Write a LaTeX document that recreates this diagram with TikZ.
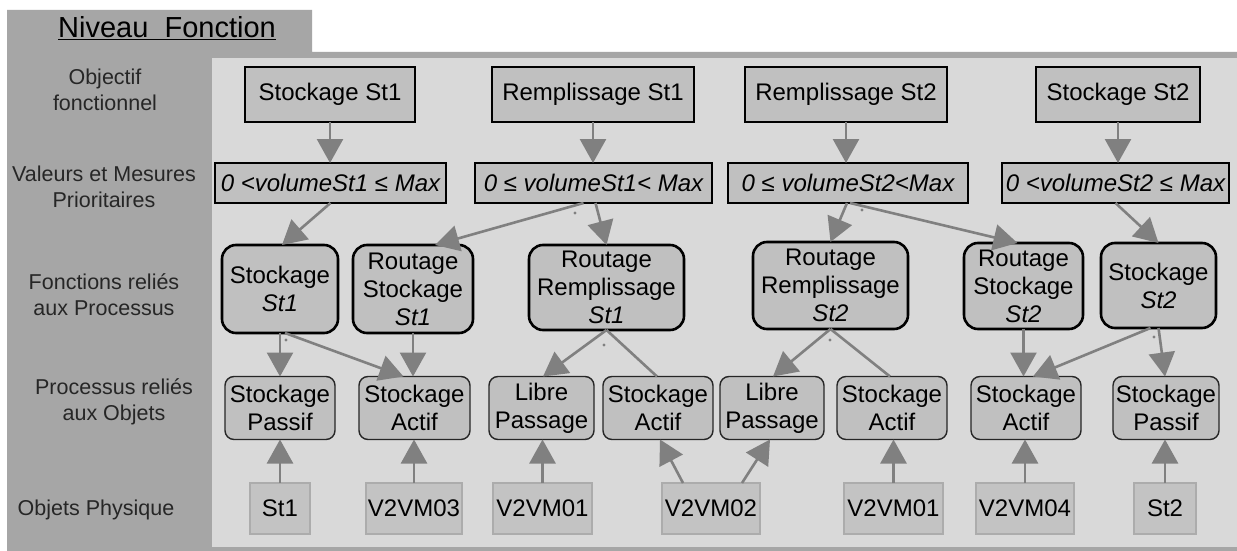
\documentclass[tikz,border=0pt]{standalone}
\usepackage{fontspec}
\setmainfont{Liberation Sans}
\usetikzlibrary{arrows.meta}
\definecolor{darkpanel}{HTML}{A6A6A6}
\definecolor{lightpanel}{HTML}{D9D9D9}
\definecolor{boxfill}{HTML}{C0C0C0}
\definecolor{objfill}{HTML}{C3C3C3}
\definecolor{objline}{HTML}{ACACAC}
\definecolor{arrowgray}{HTML}{808080}
\begin{document}
\begin{tikzpicture}[x=1pt,y=-1pt,
  every node/.style={inner sep=0pt,outer sep=0pt,align=center},
  objbox/.style={draw=black,line width=2.6pt,fill=boxfill,minimum height=55pt,font=\fontsize{24}{28}\selectfont},
  valbox/.style={draw=black,line width=2.6pt,fill=boxfill,minimum height=40pt,font=\fontsize{24}{28}\selectfont\itshape},
  funbox/.style={draw=black,line width=2.6pt,fill=boxfill,rounded corners=14pt,font=\fontsize{24}{28}\selectfont},
  procbox/.style={draw=black!85,line width=1.4pt,fill=boxfill,rounded corners=9pt,minimum height=63pt,font=\fontsize{24}{28}\selectfont},
  physbox/.style={draw=objline,line width=1.2pt,fill=objfill,minimum height=51pt,font=\fontsize{24}{28}\selectfont},
  rowlabel/.style={font=\fontsize{21.5}{26}\selectfont,text=black!85},
  arr/.style={draw=arrowgray,line width=2.6pt,-{Triangle[length=24pt,width=26pt]}},
  plain/.style={draw=arrowgray,line width=2.6pt},
  dotmark/.style={fill=arrowgray}
]
\useasboundingbox (0,0) rectangle (1237,551);
\fill[white] (0,0) rectangle (1237,551);
% panels
\fill[darkpanel] (7,10) -- (312,10) -- (312,52) -- (1237,52) -- (1237,551) -- (7,551) -- cycle;
\fill[lightpanel] (212,58) rectangle (1237,547);
% title
\node[anchor=base,font=\fontsize{29}{32}\selectfont] (title) at (167,38) {\underline{Niveau\ \ Fonction}};
% row labels
\node[rowlabel] (l1) at (105,90) {Objectif\\fonctionnel};
\node[rowlabel] (l2) at (104,187) {Valeurs et Mesures\\Prioritaires};
\node[rowlabel] (l3) at (104,295) {Fonctions reliés\\aux Processus};
\node[rowlabel] (l4) at (114,402) {Processus reliés\\aux Objets};
\node[rowlabel] (l5) at (96,510) {Objets Physique};
% row 1
\node[objbox,minimum width=170pt] (o1) at (330,94.5) {Stockage St1};
\node[objbox,minimum width=202pt] (o2) at (593,94.5) {Remplissage St1};
\node[objbox,minimum width=202pt] (o3) at (846,94.5) {Remplissage St2};
\node[objbox,minimum width=164pt] (o4) at (1118,94.5) {Stockage St2};
% row 2
\node[valbox,minimum width=231pt] (v1) at (330.5,183) {0 <volumeSt1 ≤ Max};
\node[valbox,minimum width=237pt] (v2) at (593.5,183) {0 ≤ volumeSt1< Max};
\node[valbox,minimum width=240pt] (v3) at (848,183) {0 ≤ volumeSt2<Max};
\node[valbox,minimum width=227pt] (v4) at (1115.5,183) {0 <volumeSt2 ≤ Max};
% row 3
\node[funbox,minimum width=116pt,minimum height=88pt] (f1) at (280,289) {Stockage\\\textit{St1}};
\node[funbox,minimum width=120pt,minimum height=88pt] (f2) at (413,289) {Routage\\Stockage\\\textit{St1}};
\node[funbox,minimum width=155pt,minimum height=85pt] (f3) at (606.5,287.5) {Routage\\Remplissage\\\textit{St1}};
\node[funbox,minimum width=155pt,minimum height=87pt] (f4) at (830.5,285.5) {Routage\\Remplissage\\\textit{St2}};
\node[funbox,minimum width=119pt,minimum height=86pt] (f5) at (1023.5,286) {Routage\\Stockage\\\textit{St2}};
\node[funbox,minimum width=115pt,minimum height=85pt] (f6) at (1158.5,285.5) {Stockage\\\textit{St2}};
% row 4
\node[procbox,minimum width=110pt] (p1) at (280,408) {Stockage\\Passif};
\node[procbox,minimum width=111pt] (p2) at (414.5,408) {Stockage\\Actif};
\node[procbox,minimum width=105pt] (p3) at (541.5,408) {Libre\\Passage};
\node[procbox,minimum width=110pt] (p4) at (658,408) {Stockage\\Actif};
\node[procbox,minimum width=104pt] (p5) at (772,408) {Libre\\Passage};
\node[procbox,minimum width=110pt] (p6) at (892,408) {Stockage\\Actif};
\node[procbox,minimum width=110pt] (p7) at (1026,408) {Stockage\\Actif};
\node[procbox,minimum width=106pt] (p8) at (1166,408) {Stockage\\Passif};
% row 5
\node[physbox,minimum width=60pt] (b1) at (280,508.5) {St1};
\node[physbox,minimum width=96pt] (b2) at (414,508.5) {V2VM03};
\node[physbox,minimum width=99pt] (b3) at (542.5,508.5) {V2VM01};
\node[physbox,minimum width=98pt] (b4) at (711,508.5) {V2VM02};
\node[physbox,minimum width=99pt] (b5) at (893.5,508.5) {V2VM01};
\node[physbox,minimum width=98pt] (b6) at (1025,508.5) {V2VM04};
\node[physbox,minimum width=62pt] (b7) at (1165,508.5) {St2};
% row 1 -> row 2
\draw[arr] (o1.south) -- (o1.south |- v1.north);
\draw[arr] (o2.south) -- (o2.south |- v2.north);
\draw[arr] (o3.south) -- (o3.south |- v3.north);
\draw[arr] (o4.south) -- (o4.south |- v4.north);
% row 2 -> row 3
\draw[arr] (v1.south) -- ([xshift=2pt]f1.north);
\draw[arr] ([xshift=-10pt]v2.south) -- ([xshift=22pt]f2.north);
\draw[arr] ([xshift=2pt]v2.south) -- (f3.north);
\draw[arr] ([xshift=-1pt]v3.south) -- (f4.north);
\draw[arr] ([xshift=2pt]v3.south) -- ([xshift=-6pt]f5.north);
\draw[arr] (v4.south) -- (f6.north);
% row 3 -> row 4
\draw[arr] (f1.south) -- (p1.north);
\draw[arr] ([xshift=5pt]f1.south) -- ([xshift=-11pt]p2.north);
\draw[arr] (f2.south) -- (f2.south |- p2.north);
\draw[arr] (f3.south) -- ([xshift=1.5pt]p3.north);
\draw[plain] (f3.south) -- ([xshift=-1pt]p4.north);
\draw[arr] (f4.south) -- ([xshift=1pt]p5.north);
\draw[plain] (f4.south) -- ([xshift=-2pt]p6.north);
\draw[arr] (f5.south) -- (f5.south |- p7.north);
\draw[arr] ([xshift=-8pt]f6.south) -- ([xshift=7pt]p7.north);
\draw[arr] (f6.south) -- ([xshift=-1pt]p8.north);
% row 5 -> row 4
\draw[arr] (b1.north) -- (p1.south);
\draw[arr] (b2.north) -- (b2.north |- p2.south);
\draw[arr] (b3.north) -- (b3.north |- p3.south);
\draw[arr] ([xshift=-28pt]b4.north) -- ([xshift=2pt]p4.south);
\draw[arr] ([xshift=31pt]b4.north) -- ([xshift=-2pt]p5.south);
\draw[arr] (b5.north) -- (b5.north |- p6.south);
\draw[arr] (b6.north) -- (b6.north |- p7.south);
\draw[arr] (b7.north) -- (b7.north |- p8.south);
% small branch dots
\foreach \p in {(575,213),(862,210),(286,340),(604,345),(830,340),(1154,337)}
  \fill[dotmark] \p circle (1.6pt);
\end{tikzpicture}
\end{document}
